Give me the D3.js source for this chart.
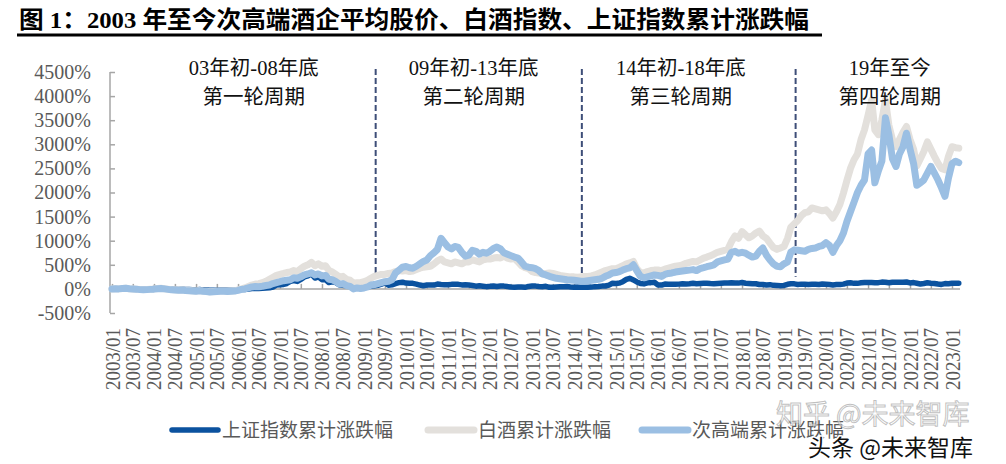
<!DOCTYPE html>
<html><head><meta charset="utf-8">
<script src="https://cdn.jsdelivr.net/npm/d3@7"></script>
<style>
body{margin:0;background:#fff;}
svg{display:block;}
</style></head>
<body>
<svg id="c" width="1006" height="464"></svg>
<script>
// ---- data (monthly, 2003/01 .. 2023/03), cumulative % change ----
const startYear = 2003;
const seriesNames = ["上证指数累计涨跌幅", "白酒累计涨跌幅", "次高端累计涨跌幅"];
const sse = [
  0, 1, 1, 1, 5, -1, -1, -5, -9, -10, -7, 0,
  6, 12, 16, 7, 4, -7, -7, -11, -7, -12, -11, -16,
  -21, -13, -21, -23, -29, -28, -28, -23, -23, -27, -27, -23,
  -16, -13, -13, -4, 9, 11, 7, 11, 17, 23, 40, 78,
  86, 92, 112, 156, 174, 155, 198, 248, 270, 310, 225, 251,
  192, 190, 132, 146, 129, 82, 85, 60, 53, 15, 25, 21,
  33, 39, 58, 65, 76, 97, 127, 78, 85, 110, 130, 140,
  120, 115, 115, 100, 80, 65, 80, 80, 80, 100, 90, 88,
  86, 94, 95, 94, 83, 84, 80, 71, 57, 65, 56, 47,
  53, 62, 51, 60, 58, 48, 40, 36, 39, 38, 32, 51,
  59, 58, 49, 45, 53, 32, 33, 40, 45, 43, 48, 41,
  36, 37, 36, 35, 36, 37, 47, 48, 58, 61, 79, 116,
  114, 121, 150, 196, 220, 185, 144, 114, 104, 126, 130, 136,
  83, 79, 100, 96, 94, 95, 99, 106, 100, 107, 117, 107,
  111, 116, 115, 110, 108, 113, 118, 124, 123, 126, 121, 120,
  132, 117, 111, 105, 106, 90, 92, 82, 88, 74, 73, 66,
  72, 96, 106, 105, 93, 99, 95, 92, 94, 95, 91, 103,
  98, 92, 83, 91, 90, 99, 121, 126, 115, 115, 126, 132,
  132, 134, 129, 130, 141, 139, 126, 136, 138, 136, 138, 143,
  124, 131, 117, 103, 112, 127, 117, 113, 102, 93, 110, 106,
  117, 119, 118
];
const baijiu = [
  0, 3, 5, 8, 12, 5, 0, -5, -10, -15, -10, -5,
  0, 10, 15, 5, -5, -15, -20, -25, -20, -30, -35, -40,
  -45, -35, -45, -50, -60, -55, -50, -45, -45, -50, -45, -40,
  -20, 0, 20, 50, 80, 100, 110, 130, 160, 200, 240, 280,
  300, 320, 340, 350, 380, 360, 420, 470, 500, 550, 480, 520,
  470, 480, 380, 350, 300, 250, 260, 200, 180, 120, 130, 130,
  150, 180, 220, 260, 280, 300, 300, 320, 330, 360, 380, 370,
  380, 360, 370, 400, 430, 450, 460, 470, 520, 580, 620, 560,
  540, 520, 560, 540, 520, 560, 560, 600, 580, 560, 600, 620,
  620, 640, 650, 640, 680, 640, 620, 630, 560, 480, 440, 420,
  360, 340, 330, 310, 320, 330, 320, 300, 280, 270, 260, 250,
  250, 240, 250, 255, 260, 270, 290, 320, 350, 380, 400, 420,
  420, 450, 480, 520, 540, 570, 420, 340, 330, 360, 380, 390,
  394, 380, 410, 430, 450, 470, 480, 500, 530, 550, 570, 560,
  600, 640, 660, 690, 720, 760, 780, 800, 830, 980, 1100, 1050,
  1190, 1120, 1060, 1100, 1160, 1200, 1100, 1050, 950, 860, 820, 850,
  880, 1050, 1280, 1350, 1420, 1520, 1580, 1600, 1680, 1660, 1640, 1620,
  1640, 1560, 1470, 1600, 1750, 1990, 2250, 2500, 2680, 2800, 3100, 3300,
  3600, 3920, 3300, 3200, 3500, 3920, 3400, 3100, 2950, 3100, 3250, 3370,
  3100, 2900, 2550, 2700, 2850, 3050, 2900, 2750, 2610, 2500, 2470, 2750,
  2950, 2930, 2920
];
const cigaoduan = [
  0, 5, 0, 10, 15, 5, 0, -5, -15, -20, -15, -10,
  -5, 5, 10, 0, -10, -20, -25, -30, -25, -35, -40, -45,
  -50, -40, -50, -55, -65, -60, -55, -50, -50, -55, -50, -45,
  -30, -10, 0, 20, 40, 50, 45, 55, 70, 80, 110, 130,
  150, 170, 180, 190, 230, 220, 250, 290, 310, 335, 290, 310,
  270, 280, 200, 190, 150, 100, 110, 70, 50, 0, 20, 10,
  20, 40, 80, 90, 110, 130, 150, 160, 190, 330, 390, 450,
  465, 440, 430, 470, 520, 570, 600, 690, 750, 820, 1050, 960,
  870, 830, 880, 860, 760, 680, 700, 800, 780, 720, 760, 740,
  780, 840, 870, 830, 750, 720, 690, 660, 640, 560, 470, 450,
  440, 420, 380, 310, 290, 260, 240, 220, 210, 200, 190, 185,
  180, 170, 160, 160, 170, 180, 190, 200, 220, 260, 290, 330,
  340, 360, 390, 420, 435, 500, 380, 260, 230, 250, 270, 290,
  280, 260, 300, 320, 330, 350, 360, 370, 380, 390, 400, 380,
  420, 440, 460, 480, 500, 560, 580, 600, 620, 760, 780, 740,
  760, 740, 700, 660, 680, 780, 850, 700, 600, 520, 470, 460,
  520, 560, 760, 810, 800, 790, 780, 820, 840, 850, 880, 900,
  960, 900, 760, 900, 1000, 1160, 1400, 1600, 1800, 2000, 2150, 2260,
  2800, 2880, 2200, 2450, 2650, 3550, 3200, 2700, 2540, 2800, 2950, 3230,
  2900, 2600, 2150, 2200, 2260, 2400, 2540, 2400, 2260, 2100, 1920, 2300,
  2600, 2650, 2620
];
const yTicks = [-500, 0, 500, 1000, 1500, 2000, 2500, 3000, 3500, 4000, 4500];
const xTickLabels = d3.range(41).map(i => `${2003 + Math.floor(i / 2)}/${i % 2 ? "07" : "01"}`);
const periodLines1 = ["03年初-08年底", "09年初-13年底", "14年初-18年底", "19年至今"];
const periodLines2 = ["第一轮周期", "第二轮周期", "第三轮周期", "第四轮周期"];
const periodCenters = [new Date(2006, 4, 18), new Date(2011, 7, 12), new Date(2016, 6, 18), new Date(2021, 6, 9)];
const dividers = [new Date(2009, 3, 12), new Date(2014, 2, 10), new Date(2019, 3, 12)];
const titleText = "图 1：2003 年至今次高端酒企平均股价、白酒指数、上证指数累计涨跌幅";

// ---- setup ----
const svg = d3.select("#c");
const dates = sse.map((_, i) => new Date(startYear, i, 1));
const x = d3.scaleTime().domain([new Date(2003, 0, 1), new Date(2023, 0, 1)]).range([112, 952]);
const y = d3.scaleLinear().domain([-500, 4500]).range([313, 72]);
const serif = "Liberation Serif, Noto Sans CJK SC, serif";
const cjk = "Liberation Serif, Noto Sans CJK SC, serif";
const axisGray = "#A6A6A6";
const labelGray = "#595959";
const colors = ["#0B529F", "#E3E0DC", "#9BBFE3"];
const widths = [5.5, 7, 7];

// title
svg.append("text").attr("x", 19).attr("y", 28)
  .style("font-family", cjk).attr("font-weight", "bold").attr("font-size", 24)
  .attr("fill", "#000").attr("textLength", 790).attr("lengthAdjust", "spacingAndGlyphs")
  .text(titleText);
svg.append("line").attr("x1", 17).attr("x2", 822).attr("y1", 35).attr("y2", 35)
  .attr("stroke", "#000").attr("stroke-width", 3);

// y axis
const yAxis = svg.append("g").attr("transform", "translate(110,0)")
  .call(d3.axisLeft(y).tickValues(yTicks).tickSize(-5).tickPadding(19).tickFormat(d => d + "%"));
yAxis.attr("font-family", null).attr("font-size", null);
yAxis.select(".domain").attr("stroke", axisGray).attr("stroke-width", 1.5).attr("d", `M0,${y(-500)}V${y(4500)}`);
yAxis.selectAll(".tick line").attr("stroke", axisGray).attr("stroke-width", 1.5);
yAxis.selectAll(".tick text").style("font-family", serif).style("font-size", "20px").attr("fill", labelGray);

// x axis line at zero with inward ticks
const tickDates = xTickLabels.map((_, i) => new Date(2003, i * 6, 1));
const xAxis = svg.append("g").attr("transform", `translate(0,${y(0)})`)
  .call(d3.axisBottom(x).tickValues(tickDates).tickSize(-5).tickFormat(""));
xAxis.select(".domain").attr("stroke", axisGray).attr("stroke-width", 1.5).attr("d", "M110,0H960");
xAxis.selectAll(".tick line").attr("stroke", axisGray).attr("stroke-width", 1.5);

// x labels at bottom
const xLab = svg.append("g").attr("transform", "translate(0,326)")
  .call(d3.axisBottom(x).tickValues(tickDates).tickSize(0).tickFormat((d, i) => xTickLabels[i]));
xLab.attr("font-family", null).attr("font-size", null);
xLab.select(".domain").remove();
xLab.selectAll(".tick text")
  .attr("transform", "rotate(-90)").attr("text-anchor", "end")
  .attr("x", -2).attr("y", 0).attr("dy", "0.35em")
  .style("font-family", serif).style("font-size", "20px").attr("fill", labelGray)
  .attr("textLength", 62).attr("lengthAdjust", "spacingAndGlyphs");

// dashed dividers
svg.append("g").selectAll("line").data(dividers).join("line")
  .attr("x1", d => x(d)).attr("x2", d => x(d))
  .attr("y1", y(4560)).attr("y2", y(250))
  .attr("stroke", "#3E4E78").attr("stroke-width", 2).attr("stroke-dasharray", "6,3");

// lines
const line = d3.line().x((d, i) => x(dates[i])).y(d => y(d)).curve(d3.curveLinear);
const allSeries = [sse, baijiu, cigaoduan];
svg.append("g").selectAll("path").data(allSeries).join("path")
  .attr("d", line).attr("fill", "none")
  .attr("stroke", (d, i) => colors[i]).attr("stroke-width", (d, i) => widths[i])
  .attr("stroke-linejoin", "round").attr("stroke-linecap", "round");

// period annotations
const ann = svg.append("g").style("font-family", cjk).attr("font-size", 20.5).attr("fill", "#111").attr("text-anchor", "middle");
ann.selectAll("text.l1").data(periodLines1).join("text").attr("class", "l1")
  .attr("x", (d, i) => x(periodCenters[i])).attr("y", 75).text(d => d);
ann.selectAll("text.l2").data(periodLines2).join("text").attr("class", "l2")
  .attr("x", (d, i) => x(periodCenters[i])).attr("y", 104).text(d => d);

// legend
const legX = [172, 428, 642];
const leg = svg.append("g");
seriesNames.forEach((n, i) => {
  leg.append("line").attr("x1", legX[i]).attr("x2", legX[i] + 46).attr("y1", 430).attr("y2", 430)
    .attr("stroke", colors[i]).attr("stroke-width", widths[i]).attr("stroke-linecap", "round");
  leg.append("text").attr("x", legX[i] + 50).attr("y", 437)
    .style("font-family", cjk).attr("font-size", 19).attr("fill", labelGray).text(n);
});

// watermarks
svg.append("text").attr("x", 776).attr("y", 424)
  .style("font-family", "Noto Sans CJK SC, sans-serif").attr("font-size", 27)
  .attr("fill", "rgba(255,255,255,0.55)").attr("stroke", "rgba(150,150,150,0.6)").attr("stroke-width", 1)
  .text("知乎 @未来智库");
svg.append("text").attr("x", 808).attr("y", 456)
  .style("font-family", "Noto Sans CJK SC, sans-serif").attr("font-size", 23)
  .attr("fill", "#111").attr("stroke", "#fff").attr("stroke-width", 3).attr("paint-order", "stroke")
  .text("头条 @未来智库");
</script>
</body></html>
